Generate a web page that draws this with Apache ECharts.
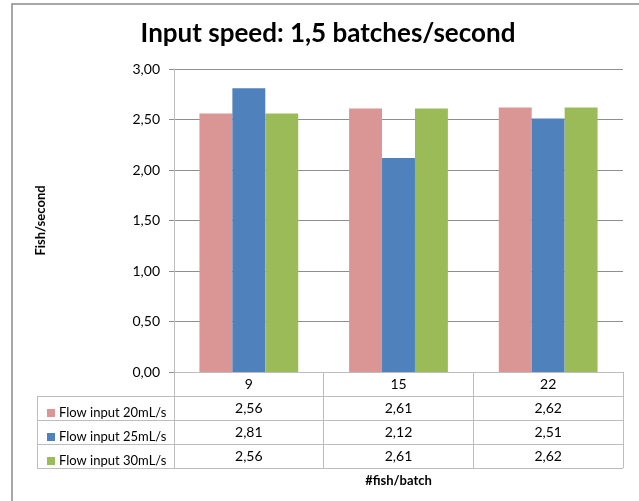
<!DOCTYPE html>
<html>
<head>
<meta charset="utf-8">
<script src="https://cdn.jsdelivr.net/npm/echarts@6/dist/echarts.min.js"></script>
<style>html,body{margin:0;padding:0;background:#fff;}#c{width:639px;height:501px;}</style>
</head>
<body>
<div id="c"></div>
<script>
var categories = ['9', '15', '22'];
var seriesNames = ['Flow input 20mL/s', 'Flow input 25mL/s', 'Flow input 30mL/s'];
var flow20 = [2.56, 2.61, 2.62];
var flow25 = [2.81, 2.12, 2.51];
var flow30 = [2.56, 2.61, 2.62];
var yTicks = [0, 0.5, 1, 1.5, 2, 2.5, 3];
var colors = ['#D99694', '#4F81BD', '#9BBB59'];

var gridLeft = 174, gridRight = 623, gridTop = 69, gridBottom = 372;
var rowH = 24, tableLeft = 37;
var FONT = 'Lato';
var gridColor = '#8e8e8e';
var tableColor = '#bdbdbd';

function fmt(v) { return v.toFixed(2).replace('.', ','); }

var allValues = [flow20, flow25, flow30];
var xAxes = [{
  type: 'category', data: categories, gridIndex: 0, position: 'bottom',
  axisLine: { show: true, lineStyle: { color: tableColor, width: 1 } },
  axisTick: { show: true, length: rowH * 4, lineStyle: { color: tableColor } },
  axisLabel: { color: '#000', fontFamily: FONT, fontSize: 14, margin: 12, verticalAlign: 'middle' },
  name: '#fish/batch', nameLocation: 'middle', nameGap: 102,
  nameTextStyle: { fontFamily: FONT, fontWeight: 'bold', fontSize: 13, color: '#000' }
}];
allValues.forEach(function (vals, i) {
  xAxes.push({
    type: 'category', data: vals.map(fmt), gridIndex: 0, position: 'bottom',
    offset: rowH * (i + 1),
    axisLine: { show: false }, axisTick: { show: false },
    axisLabel: { color: '#000', fontFamily: FONT, fontSize: 14, margin: 12, verticalAlign: 'middle' }
  });
});

var series = allValues.map(function (vals, i) {
  return {
    name: seriesNames[i], type: 'bar', data: vals, xAxisIndex: 0,
    barGap: '0%', barCategoryGap: '34%',
    itemStyle: { color: colors[i] }
  };
});

var graphics = [
  { type: 'rect', shape: { x: 12, y: 4, width: 640, height: 520 },
    style: { fill: 'none', stroke: '#8a8a8a', lineWidth: 1.5 }, z: 0 }
];
for (var r = 1; r <= 4; r++) {
  graphics.push({ type: 'line', shape: { x1: tableLeft, y1: gridBottom + r * rowH + 0.5, x2: gridRight, y2: gridBottom + r * rowH + 0.5 },
    style: { stroke: tableColor, lineWidth: 1 } });
}
graphics.push({ type: 'line', shape: { x1: tableLeft + 0.5, y1: gridBottom + rowH, x2: tableLeft + 0.5, y2: gridBottom + 4 * rowH },
  style: { stroke: tableColor, lineWidth: 1 } });

var chart = echarts.init(document.getElementById('c'), null, { renderer: 'canvas' });
chart.setOption({
  animation: false,
  backgroundColor: '#fff',
  color: colors,
  title: {
    text: 'Input speed: 1,5 batches/second', left: 323, top: 16, textAlign: 'center',
    textStyle: { fontFamily: FONT, fontWeight: 'bold', fontSize: 26, color: '#000' }
  },
  legend: {
    orient: 'vertical', left: 42, top: gridBottom + rowH + 4,
    icon: 'rect', itemWidth: 8, itemHeight: 8, itemGap: 8,
    textStyle: { fontFamily: FONT, fontSize: 13, color: '#000', lineHeight: 16, padding: [0, 0, 0, -1] },
    selectedMode: false,
    data: seriesNames
  },
  grid: { left: gridLeft, top: gridTop, width: gridRight - gridLeft, height: gridBottom - gridTop, containLabel: false },
  xAxis: xAxes,
  yAxis: {
    type: 'value', min: yTicks[0], max: yTicks[yTicks.length - 1], interval: yTicks[1] - yTicks[0],
    axisLine: { show: true, lineStyle: { color: tableColor } },
    axisTick: { show: true, length: 5, lineStyle: { color: gridColor } },
    axisLabel: { formatter: fmt, color: '#000', fontFamily: FONT, fontSize: 14, margin: 14 },
    splitLine: { show: true, lineStyle: { color: gridColor, width: 1 } },
    name: 'Fish/second', nameLocation: 'middle', nameGap: 127, nameRotate: 90,
    nameTextStyle: { fontFamily: FONT, fontWeight: 'bold', fontSize: 13, color: '#000' }
  },
  graphic: graphics,
  series: series
});
</script>
</body>
</html>
